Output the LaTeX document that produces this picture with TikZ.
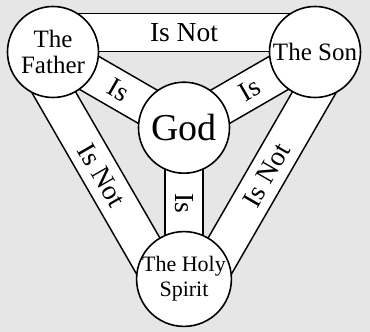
\documentclass[tikz,border=0pt]{standalone}
\usepackage{fontspec}
\setmainfont{Liberation Serif}
\usetikzlibrary{calc}
\definecolor{shieldgray}{RGB}{230,230,230}

\begin{document}
\begin{tikzpicture}[x=1pt, y=1pt,
    person/.style={circle, draw, line width=1.6pt, fill=white, minimum size=91pt,
        inner sep=0pt, align=center, font=\fontsize{25}{26}\selectfont},
    band/.style={draw=black, line width=1.6pt, double=white, double distance=36.5pt},
    bandtext/.style={sloped, inner sep=0pt, font=\fontsize{27.5}{29}\selectfont}]
  \fill[shieldgray] (0,0) rectangle (370,332);
  \useasboundingbox (0,0) rectangle (370,332);

  % centres of the four circles
  \coordinate (F) at (53,280);
  \coordinate (S) at (315,280);
  \coordinate (H) at (184,53);
  \coordinate (G) at (184,204.3);

  % outer bands lie outside the triangle of centres
  \coordinate (F1) at ($(F)!19.5pt!90:(S)$);
  \coordinate (S1) at ($(S)!19.5pt!-90:(F)$);
  \coordinate (F2) at ($(F)!19.5pt!-90:(H)$);
  \coordinate (H2) at ($(H)!19.5pt!90:(F)$);
  \coordinate (H3) at ($(H)!19.5pt!-90:(S)$);
  \coordinate (S3) at ($(S)!19.5pt!90:(H)$);

  \draw[band] (F1) -- node[bandtext] (fsnot) {Is Not} (S1);
  \draw[band] (F2) -- node[bandtext] (fhnot) {Is Not} (H2);
  \draw[band] (H3) -- node[bandtext] (hsnot) {Is Not} (S3);

  % inner bands to God
  \draw[band] (F) -- node[bandtext] (fgis) {Is} (G);
  \draw[band] (G) -- node[bandtext] (gsis) {Is} (S);
  \draw[band] (G) -- node[bandtext] (ghis) {Is} (H);

  \node[person] (father) at (F) {The\\Father};
  \node[person] (son) at (S) {The Son};
  \node[person, font=\fontsize{38}{40}\selectfont] (god) at (G) {God};
  \node[person, font=\fontsize{22}{25}\selectfont] (spirit) at (H) {The Holy\\Spirit};
\end{tikzpicture}
\end{document}
